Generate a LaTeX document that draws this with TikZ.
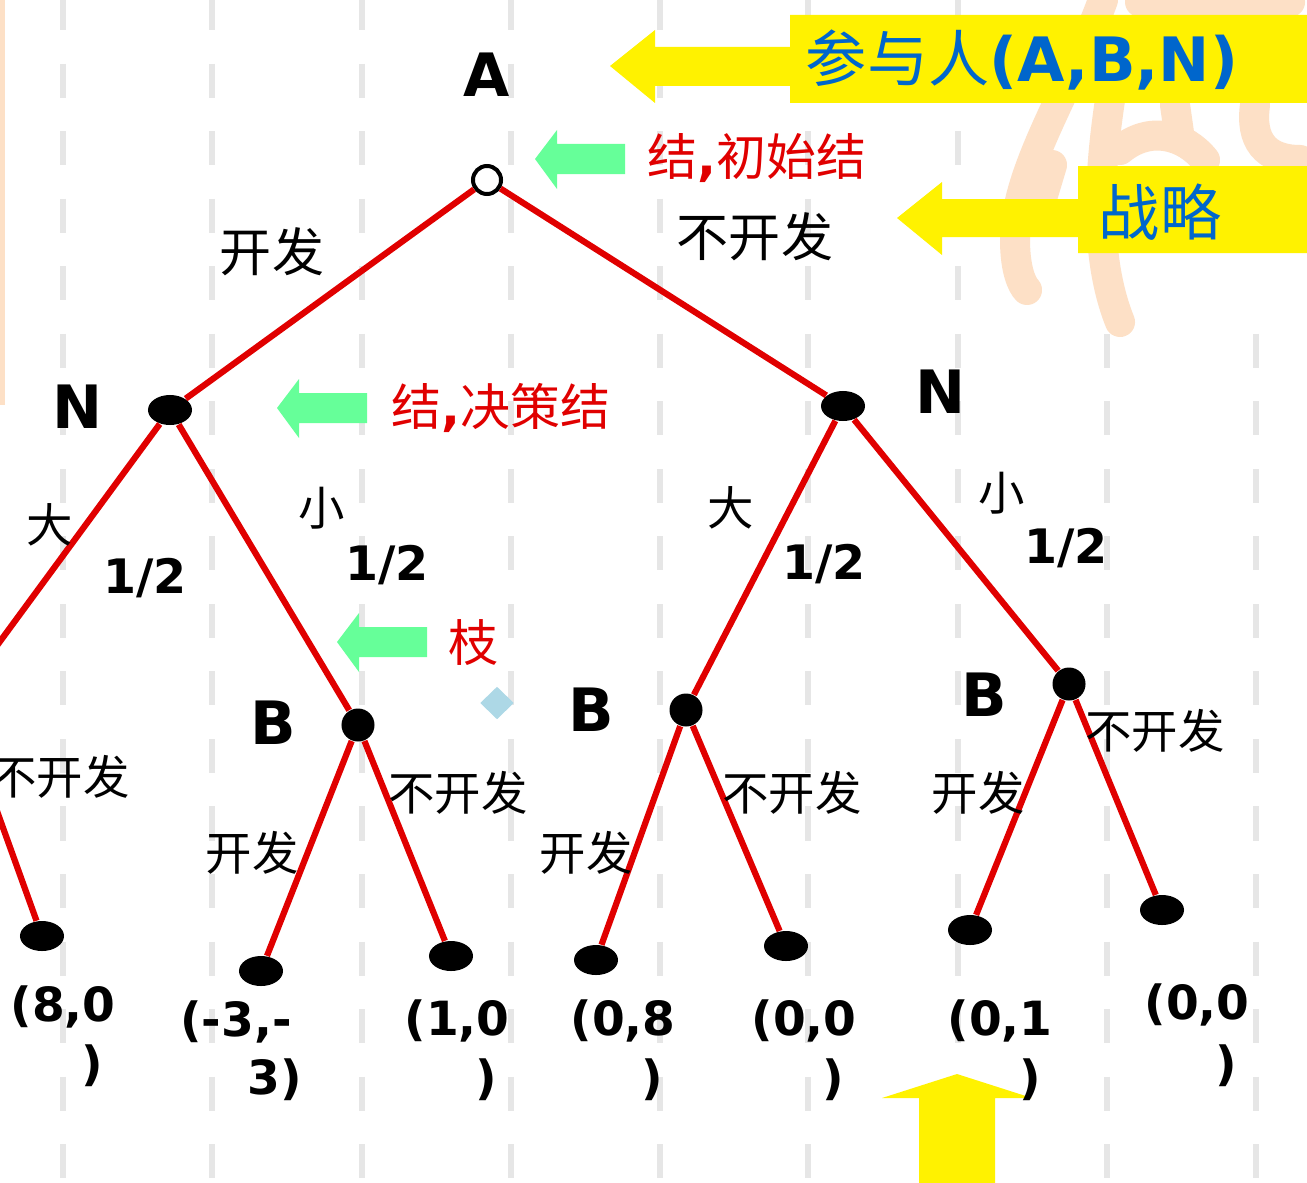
\documentclass[tikz,border=0pt]{standalone}
\usepackage{fontspec}
\setmainfont{DejaVu Sans}
\newfontfamily\zh{Noto Sans CJK SC}
\usetikzlibrary{shapes.geometric}
\definecolor{branchred}{HTML}{E00000}
\definecolor{tipgreen}{HTML}{66FF99}
\definecolor{noteblue}{HTML}{0066CC}
\definecolor{gridgray}{HTML}{E6E6E6}
\definecolor{peach}{HTML}{FDE0C6}
\definecolor{gemblue}{HTML}{ADD8E6}

\begin{document}
\begin{tikzpicture}[x=0.01cm,y=-0.01cm,
        gridline/.style = {gridgray,line width=0.055cm,dash pattern=on 0.34cm off 0.335cm},
        branch/.style = {branchred,line width=0.062cm},
        start/.style = {circle,draw,fill=white,line width=0.04cm,inner sep=0,minimum size=0.28cm},
        chance/.style = {ellipse,fill=black,inner sep=0,minimum width=0.44cm,minimum height=0.30cm},
        move/.style = {circle,fill=black,inner sep=0,minimum size=0.33cm},
        leaf/.style = {chance},
        player/.style = {inner sep=0,font=\fontsize{17pt}{17pt}\selectfont\bfseries},
        act/.style = {inner sep=0,font=\fontsize{13.2pt}{13.2pt}\zh},
        prob/.style = {inner sep=0,font=\fontsize{13.5pt}{13.5pt}\selectfont\bfseries},
        pay/.style = {inner sep=0,font=\fontsize{13.4pt}{13.4pt}\selectfont\bfseries},
        note/.style = {inner sep=0,branchred,font=\fontsize{14.2pt}{14.2pt}\zh},
        callout/.style = {inner sep=0,noteblue,font=\fontsize{17.4pt}{17.4pt}\selectfont\bfseries}]
    \useasboundingbox (0,0) rectangle (1307,1182);
    \clip (0,0) rectangle (1307,1182);

    % slide background
    \foreach \x in {63,212,362,511,660,808,958,1107,1256}
        \draw[gridline] (\x,-4) -- (\x,1190);
    \fill[white] (1000,0) rectangle (1307,331);
    \fill[peach] (0,0) rectangle (5,405);
    \begin{scope}[peach,line width=0.3cm,line cap=round]
        \draw (1103,0) .. controls (1070,90) and (1015,170) .. (1015,240)
                       .. controls (1015,270) and (1022,285) .. (1027,290);
        \draw (1110,100) .. controls (1098,180) and (1095,260) .. (1120,322);
        \draw (1120,150) .. controls (1150,125) and (1185,135) .. (1205,160);
        \draw (1175,105) -- (1180,140);
        \draw (1255,105) .. controls (1250,140) and (1265,160) .. (1300,160);
        \draw (1140,2) -- (1290,2);
        \draw (1040,205) -- (1052,165);
    \end{scope}

    % pointers
    \fill[yellow] (610,66) -- (655,30) -- (655,47) -- (790,47) -- (790,15) -- (1307,15)
        -- (1307,103) -- (790,103) -- (790,86) -- (655,86) -- (655,103) -- cycle;
    \fill[yellow] (897,218) -- (942,182) -- (942,199) -- (1078,199) -- (1078,166) -- (1307,166)
        -- (1307,253) -- (1078,253) -- (1078,237) -- (942,237) -- (942,255) -- cycle;
    \fill[yellow] (957,1074) -- (1032,1098) -- (995,1098) -- (995,1190)
        -- (919,1190) -- (919,1098) -- (882,1098) -- cycle;
    \foreach \x/\y in {535/159,277/408,337/642}
        \fill[tipgreen] (\x,\y) -- ++(22,-29) -- ++(0,14) -- ++(68,0) -- ++(0,30)
            -- ++(-68,0) -- ++(0,15) -- cycle;
    \node[diamond,fill=gemblue,inner sep=0,minimum width=0.34cm,minimum height=0.33cm] (gem) at (497,703) {};

    % tree
    \node[start] (r) at (487,180) {};
    \node[chance] (nL) at (170,410) {};
    \node[chance] (nR) at (843,406) {};
    \node[move] (bH) at (-43,700) {};
    \node[move] (bM) at (358,725) {};
    \node[move] (bC) at (686,710) {};
    \node[move] (bR) at (1069,684) {};
    \node[leaf] (l1) at (42,936) {};
    \node[leaf] (l2) at (261,971) {};
    \node[leaf] (l3) at (451,956) {};
    \node[leaf] (l4) at (596,960) {};
    \node[leaf] (l5) at (786,946) {};
    \node[leaf] (l6) at (970,930) {};
    \node[leaf] (l7) at (1162,910) {};
    \foreach \a/\b in {r/nL,r/nR,nL/bH,nL/bM,nR/bC,nR/bR,bH/l1,bM/l2,bM/l3,bC/l4,bC/l5,bR/l6,bR/l7}
        \draw[branch] (\a) -- (\b);

    % players
    \node[player] (pA) at (487,75) {A};
    \node[player] (pN1) at (78,407) {N};
    \node[player] (pN2) at (940,392) {N};
    \node[player] (pB1) at (273,723) {B};
    \node[player] (pB2) at (591,710) {B};
    \node[player] (pB3) at (984,695) {B};

    % moves
    \node[act,font=\fontsize{14.8pt}{14.8pt}\zh] (m1) at (272,252) {开发};
    \node[act,font=\fontsize{14.8pt}{14.8pt}\zh] (m2) at (755,237) {不开发};
    \node[act] (m3) at (50,525) {大};
    \node[act] (m4) at (322,508) {小};
    \node[act] (m5) at (731,508) {大};
    \node[act] (m6) at (1002,493) {小};
    \node[act] (m7) at (60,777) {不开发};
    \node[act] (m8) at (252,853) {开发};
    \node[act] (m9) at (458,793) {不开发};
    \node[act] (m10) at (586,853) {开发};
    \node[act] (m11) at (792,793) {不开发};
    \node[act] (m12) at (978,793) {开发};
    \node[act] (m13) at (1155,731) {不开发};
    \node[prob] (q1) at (145,578) {1/2};
    \node[prob] (q2) at (387,565) {1/2};
    \node[prob] (q3) at (824,564) {1/2};
    \node[prob] (q4) at (1066,548) {1/2};

    % payoffs
    \node[pay] (u1) at (63,1007) {(8,0};
    \node[pay] (u1b) at (92,1066) {)};
    \node[pay] (u2) at (236,1022) {(-3,-};
    \node[pay] (u2b) at (275,1080) {3)};
    \node[pay] (u3) at (457,1021) {(1,0};
    \node[pay] (u3b) at (486,1080) {)};
    \node[pay] (u4) at (623,1021) {(0,8};
    \node[pay] (u4b) at (652,1080) {)};
    \node[pay] (u5) at (804,1021) {(0,0};
    \node[pay] (u5b) at (833,1080) {)};
    \node[pay] (u6) at (1000,1021) {(0,1};
    \node[pay] (u6b) at (1030,1080) {)};
    \node[pay] (u7) at (1197,1005) {(0,0};
    \node[pay] (u7b) at (1226,1066) {)};

    % notes
    \node[note] (t1) at (757,158) {结{\normalfont\bfseries ,}初始结};
    \node[note] (t2) at (501,408) {结{\normalfont\bfseries ,}决策结};
    \node[note] (t3) at (473,643) {枝};
    \node[callout] (t4) at (1022,60) {{\zh\mdseries 参与人}(A,B,N)};
    \node[callout] (t5) at (1160,212) {\zh\mdseries 战略};
\end{tikzpicture}
\end{document}
